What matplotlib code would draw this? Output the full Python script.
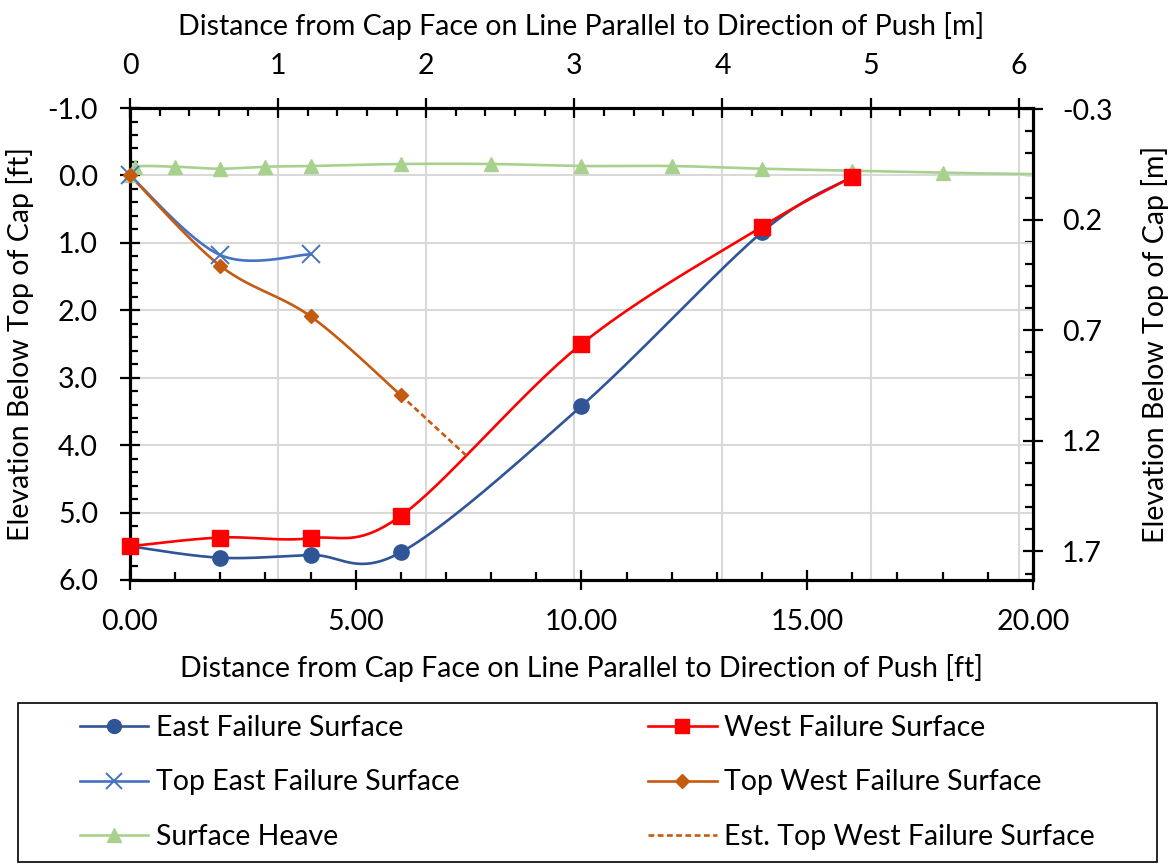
import numpy as np
import matplotlib
matplotlib.use('Agg')
import matplotlib.pyplot as plt
from matplotlib.lines import Line2D
from matplotlib.patches import Rectangle
from matplotlib.ticker import MultipleLocator, FixedLocator, FormatStrFormatter

plt.rcParams['font.family'] = ['Lato', 'DejaVu Sans']
FS = 20.5
plt.rcParams['font.size'] = FS

FT_PER_M = 3.2808

# Data (ft)
east_x = [0, 2, 4, 6, 10, 14, 16]
east_y = [5.50, 5.67, 5.63, 5.59, 3.42, 0.84, 0.02]

west_x = [0, 2, 4, 6, 10, 14, 16]
west_y = [5.50, 5.37, 5.38, 5.05, 2.50, 0.76, 0.02]

top_east_x = [0, 2, 4]
top_east_y = [0.0, 1.18, 1.17]

top_west_x = [0, 2, 4, 6]
top_west_y = [0.0, 1.34, 2.09, 3.26]

est_x = [6, 7.49]
est_y = [3.26, 4.18]

heave_x = [0, 0.12, 1, 2, 3, 4, 6, 8, 10, 12, 14, 16, 18, 20]
heave_y = [0.0, -0.13, -0.13, -0.10, -0.13, -0.14, -0.17, -0.17, -0.14, -0.14, -0.10, -0.07, -0.04, -0.02]

right_ticks = [-0.3, 0.2, 0.7, 1.2, 1.7]

c_east = '#2F5597'
c_west = '#FF0000'
c_teast = '#4472C4'
c_twest = '#C55A11'
c_heave = '#A9D18E'


def excel_smooth(x, y, n=40):
    # Bezier segments with Catmull-Rom style control points (like Excel's smoothed line)
    pts = np.column_stack([x, y]).astype(float)
    p = np.vstack([pts[0], pts, pts[-1]])
    t = np.linspace(0, 1, n)[:, None]
    out = []
    for i in range(1, len(p) - 2):
        p0, p1, p2, p3 = p[i - 1], p[i], p[i + 1], p[i + 2]
        c1 = p1 + (p2 - p0) / 6
        c2 = p2 - (p3 - p1) / 6
        seg = (1 - t) ** 3 * p1 + 3 * (1 - t) ** 2 * t * c1 + 3 * (1 - t) * t ** 2 * c2 + t ** 3 * p2
        out.append(seg if i == 1 else seg[1:])
    seg = np.vstack(out)
    return seg[:, 0], seg[:, 1]


fig = plt.figure(figsize=(11.73, 8.65), dpi=100)
ax = fig.add_axes([0.1108, 0.3295, 0.7698, 0.5456])
axt = ax.twiny()
axr = ax.twinx()
ax.set_zorder(3)
ax.patch.set_visible(False)
axt.set_zorder(1)
axr.set_zorder(2)

# main axes: ft
ax.set_xlim(0, 20)
ax.set_ylim(6, -1)
ax.xaxis.set_major_locator(MultipleLocator(5))
ax.xaxis.set_minor_locator(MultipleLocator(1))
ax.xaxis.set_major_formatter(FormatStrFormatter('%.2f'))
ax.yaxis.set_major_locator(MultipleLocator(1))
ax.yaxis.set_minor_locator(MultipleLocator(0.2))
ax.yaxis.set_major_formatter(FormatStrFormatter('%.1f'))
ax.grid(True, axis='y', which='major', color='#D9D9D9', lw=1.5)
ax.set_axisbelow(True)

# top axis: m
axt.set_xlim(0, 20 / FT_PER_M)
axt.xaxis.set_major_locator(MultipleLocator(1))
axt.xaxis.set_minor_locator(MultipleLocator(0.2))
axt.grid(True, axis='x', which='major', color='#D9D9D9', lw=1.5)

# right axis: m
axr.set_ylim(6 / FT_PER_M, -1 / FT_PER_M)
axr.yaxis.set_major_locator(FixedLocator(right_ticks))
axr.yaxis.set_minor_locator(MultipleLocator(0.1))
axr.yaxis.set_major_formatter(FormatStrFormatter('%.1f'))

for a in (ax, axt, axr):
    for s in a.spines.values():
        s.set_linewidth(2.2)
        s.set_color('black')
    a.tick_params(which='major', direction='inout', length=14, width=1.6, labelsize=FS, pad=14)
    a.tick_params(which='minor', direction='in', length=5.5, width=1.6)
ax.tick_params(which='both', top=False, right=False)
ax.tick_params(axis='y', which='major', pad=16)
axt.tick_params(axis='x', which='major', pad=14)
axr.tick_params(axis='y', which='major', pad=14)

ax.set_xlabel('Distance from Cap Face on Line Parallel to Direction of Push [ft]', fontsize=FS, labelpad=13.5)
ax.set_ylabel('Elevation Below Top of Cap [ft]', fontsize=FS, labelpad=10)
axt.set_xlabel('Distance from Cap Face on Line Parallel to Direction of Push [m]', fontsize=FS, labelpad=13)
axr.set_ylabel('Elevation Below Top of Cap [m]', fontsize=FS, labelpad=20)

lw = 1.9
mk = dict(linestyle='none', clip_on=False, zorder=4)

sx, sy = excel_smooth(heave_x, heave_y)
ax.plot(sx, sy, color=c_heave, lw=lw, zorder=2)
ax.plot(heave_x[:-1], heave_y[:-1], marker='^', ms=10.5, color=c_heave, **mk)

sx, sy = excel_smooth(east_x, east_y)
ax.plot(sx, sy, color=c_east, lw=lw, zorder=2)
ax.plot(east_x, east_y, marker='o', ms=11, color=c_east, **mk)

sx, sy = excel_smooth(west_x, west_y)
ax.plot(sx, sy, color=c_west, lw=lw, zorder=2)
ax.plot(west_x, west_y, marker='s', ms=12, color=c_west, **mk)

sx, sy = excel_smooth(top_east_x, top_east_y)
ax.plot(sx, sy, color=c_teast, lw=lw, zorder=2)
ax.plot(top_east_x, top_east_y, marker='x', ms=13, mew=1.4, color=c_teast, **mk)

sx, sy = excel_smooth(top_west_x, top_west_y)
ax.plot(sx, sy, color=c_twest, lw=lw, zorder=2)
ax.plot(top_west_x, top_west_y, marker='D', ms=7.5, color=c_twest, **mk)

dash = (0, (2.2, 1.3))
ax.plot(est_x, est_y, color=c_twest, lw=1.9, ls=dash, zorder=2)

# legend
handles = [
    Line2D([], [], color=c_east, lw=lw, marker='o', ms=10),
    Line2D([], [], color=c_teast, lw=lw, marker='x', ms=12, mew=1.4),
    Line2D([], [], color=c_heave, lw=lw, marker='^', ms=10),
    Line2D([], [], color=c_west, lw=lw, marker='s', ms=10),
    Line2D([], [], color=c_twest, lw=lw, marker='D', ms=7),
    Line2D([], [], color=c_twest, lw=1.9, ls=dash),
]
labels = ['East Failure Surface', 'Top East Failure Surface', 'Surface Heave',
          'West Failure Surface', 'Top West Failure Surface', 'Est. Top West Failure Surface']

fig.patches.append(Rectangle((18 / 1173, 3 / 865), 1139 / 1173, 159 / 865,
                             transform=fig.transFigure, fill=False, ec='black', lw=1.2))
fig.legend(handles, labels, ncol=2, mode='expand', frameon=False, loc='upper left',
           bbox_to_anchor=(80 / 1173, 1 - 715 / 865, 1015 / 1173, 0),
           borderpad=0, handlelength=2.4, handletextpad=0.27, labelspacing=1.0,
           fontsize=FS, borderaxespad=0)

fig.savefig('out.png', dpi=100)
